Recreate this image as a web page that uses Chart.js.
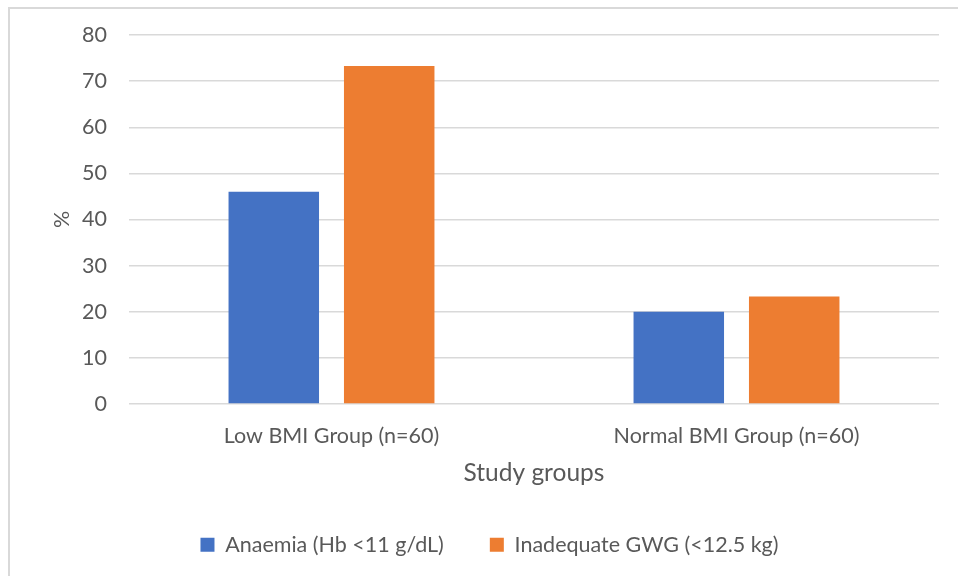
<!DOCTYPE html>
<html>
<head>
<meta charset="utf-8">
<script src="https://cdn.jsdelivr.net/npm/chart.js@4"></script>
<style>
  body { margin: 0; background: #fff; }
  #frame { position: absolute; left: 8px; top: 7px; width: 980px; height: 600px; border: 2px solid #d9d9d9; }
  #wrap { position: absolute; left: 0; top: 0; width: 958px; height: 576px; }
</style>
</head>
<body>
<div id="frame"></div>
<div id="wrap"><canvas id="chart"></canvas></div>
<script>
const categories = ['Low BMI Group (n=60)', 'Normal BMI Group (n=60)'];
const anaemia = [46, 20];
const inadequateGwg = [73.3, 23.3];
const seriesNames = ['Anaemia (Hb <11 g/dL)', 'Inadequate GWG (<12.5 kg)'];
const yTicks = [0, 10, 20, 30, 40, 50, 60, 70, 80];

const textColor = '#595959';
const family = 'Lato, "Open Sans", sans-serif';
const font = { family: family, size: 21.5 };

const ctx = document.getElementById('chart').getContext('2d');
const chart = new Chart(ctx, {
    type: 'bar',
    data: {
        labels: categories,
        datasets: [{
            label: seriesNames[0],
            data: anaemia,
            backgroundColor: '#4472c4'
        }, {
            label: seriesNames[1],
            data: inadequateGwg,
            backgroundColor: '#ed7d31'
        }]
    },
    options: {
        responsive: true,
        maintainAspectRatio: false,
        animation: false,
        categoryPercentage: 0.57,
        barPercentage: 0.784,
        layout: { padding: { left: 40, right: 19, top: 35, bottom: 10.5 } },
        scales: {
            x: {
                grid: { display: false, drawTicks: false },
                border: { display: false },
                ticks: { color: textColor, font: font, padding: 19 },
                title: { display: true, text: 'Study groups', color: textColor, font: { family: family, size: 24.5 }, padding: 0 },
                afterFit: s => { s.height = 84; }
            },
            y: {
                min: 0,
                max: 80,
                afterBuildTicks: s => { s.ticks = yTicks.map(v => ({ value: v })); },
                grid: { color: '#d9d9d9', lineWidth: 1.5, drawTicks: false },
                border: { display: false },
                ticks: { color: textColor, font: font, padding: 22 },
                title: { display: true, text: '%', color: textColor, font: font, padding: { top: 9, bottom: 0 } },
                afterFit: s => { s.width = 89; }
            }
        },
        plugins: {
            legend: {
                position: 'bottom',
                labels: { color: textColor, font: font, boxWidth: 14, boxHeight: 14, padding: 46 }
            },
            tooltip: { enabled: false }
        }
    }
});
</script>
</body>
</html>
